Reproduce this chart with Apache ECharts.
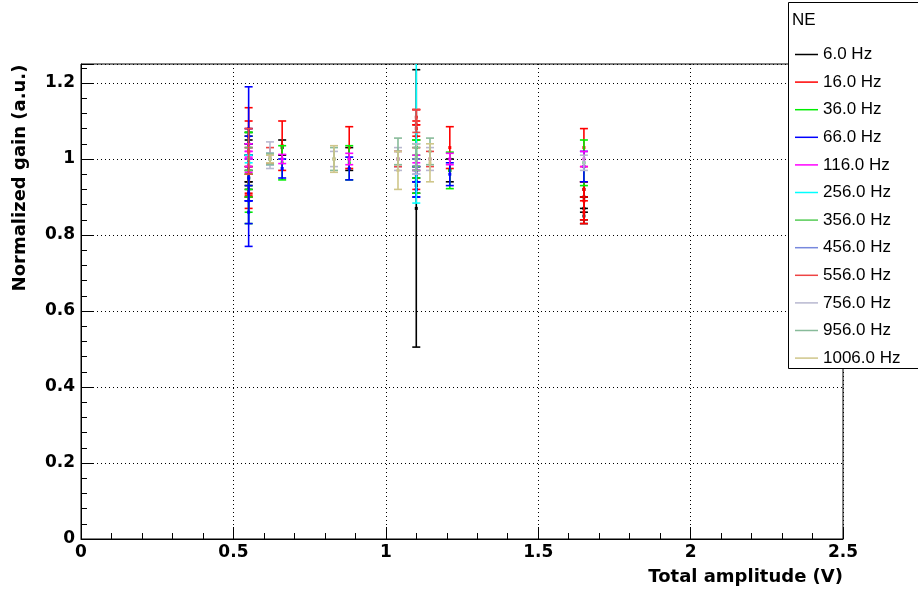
<!DOCTYPE html>
<html>
<head>
<meta charset="utf-8">
<script src="https://cdn.jsdelivr.net/npm/echarts@6/dist/echarts.min.js"></script>
<style>
  html, body { margin: 0; padding: 0; background: #fff; }
  #main { width: 918px; height: 592px; }
</style>
</head>
<body>
<div id="main"></div>
<script>
// each point: [total amplitude (V), normalized gain, error]
var freqNames = ['6.0 Hz', '16.0 Hz', '36.0 Hz', '66.0 Hz', '116.0 Hz', '256.0 Hz',
  '356.0 Hz', '456.0 Hz', '556.0 Hz', '756.0 Hz', '956.0 Hz', '1006.0 Hz'];
var freqColors = ['#000000', '#ff0000', '#00ee00', '#0000ff', '#ff00ff', '#00ffff',
  '#55cc55', '#7788dd', '#ee4444', '#b8b8d0', '#88bb9a', '#cfc68a'];

var hz6 = [[0.55, 0.99, 0.05], [0.55, 0.95, 0.03], [0.55, 1.04, 0.03], [0.55, 0.92, 0.02], [0.55, 1.01, 0.04],
  [0.66, 1.03, 0.02], [0.88, 1.00, 0.03],
  [1.1, 0.87, 0.365], [1.1, 0.97, 0.03], [1.1, 0.93, 0.02], [1.21, 0.97, 0.03],
  [1.65, 0.87, 0.03], [1.65, 0.90, 0.04], [1.65, 0.85, 0.02], [1.65, 0.92, 0.02]];
var hz16 = [[0.55, 1.02, 0.115], [0.55, 0.97, 0.06], [0.55, 1.06, 0.02], [0.55, 1.08, 0.02], [0.55, 0.90, 0.03], [0.55, 0.94, 0.04],
  [0.66, 1.035, 0.065], [0.88, 1.03, 0.055],
  [1.1, 1.09, 0.04], [1.1, 1.06, 0.03], [1.1, 0.95, 0.03], [1.1, 1.11, 0.02], [1.1, 1.08, 0.02],
  [1.21, 1.03, 0.055], [1.65, 1.03, 0.05], [1.65, 0.89, 0.05], [1.65, 0.86, 0.03], [1.65, 0.92, 0.02]];
var hz36 = [[0.55, 0.95, 0.12], [0.55, 1.01, 0.05], [0.55, 0.93, 0.03], [0.55, 0.89, 0.03], [0.55, 1.04, 0.03], [0.55, 0.97, 0.04],
  [0.66, 0.99, 0.045], [0.88, 0.99, 0.045],
  [1.1, 1.0, 0.05], [1.1, 0.94, 0.03], [1.1, 1.03, 0.02], [1.21, 0.97, 0.048], [1.65, 0.99, 0.06]];
var hz66 = [[0.55, 0.98, 0.21], [0.55, 0.95, 0.06], [0.55, 1.03, 0.03], [0.55, 0.91, 0.02], [0.55, 1.06, 0.02], [0.55, 0.86, 0.03],
  [0.66, 0.975, 0.025], [0.88, 0.975, 0.03],
  [1.1, 0.94, 0.04], [1.1, 0.92, 0.02], [1.1, 0.96, 0.02], [1.21, 0.96, 0.03], [1.65, 0.98, 0.04]];
var hz116 = [[0.55, 1.0, 0.02], [0.55, 1.015, 0.015], [0.55, 0.985, 0.02], [0.55, 1.03, 0.01],
  [0.66, 1.0, 0.012], [0.88, 1.0, 0.015],
  [1.1, 0.99, 0.02], [1.1, 0.98, 0.01], [1.21, 1.0, 0.015], [1.65, 1.0, 0.02]];
var hz256 = [[1.1, 1.07, 0.186], [0.55, 1.0, 0.01]];
var hz356 = [[0.55, 1.0, 0.03], [1.1, 1.01, 0.03], [0.62, 1.0, 0.01]];
var hz456 = [[0.62, 1.0, 0.015], [1.1, 0.98, 0.02], [1.04, 1.0, 0.02]];
var hz556 = [[0.62, 1.01, 0.02], [0.55, 1.02, 0.06], [1.1, 1.1, 0.03], [1.04, 1.0, 0.02], [1.145, 1.0, 0.02]];
var hz756 = [[0.62, 1.01, 0.035], [0.83, 1.0, 0.02], [1.04, 1.0, 0.03], [1.1, 1.0, 0.04], [1.145, 1.0, 0.03], [1.65, 0.99, 0.02]];
var hz956 = [[0.62, 1.0, 0.015], [0.83, 1.0, 0.03], [1.04, 1.02, 0.035], [1.145, 1.02, 0.035], [1.1, 1.0, 0.03]];
var hz1006 = [[0.83, 1.0, 0.035], [1.04, 0.97, 0.05], [1.145, 0.99, 0.05], [0.62, 1.0, 0.01]];
var allData = [hz6, hz16, hz36, hz66, hz116, hz256, hz356, hz456, hz556, hz756, hz956, hz1006];

var xTicks = [0, 0.5, 1, 1.5, 2, 2.5];
var yTicks = [0, 0.2, 0.4, 0.6, 0.8, 1, 1.2];

var font = 'Liberation Sans, Arial, sans-serif';
var boldFont = 'DejaVu Sans, sans-serif';

function renderErr(params, api) {
  var cs = params.coordSys;
  var x = api.value(0), y = api.value(1), e = api.value(2);
  var c = api.coord([x, y]);
  var top = api.coord([x, y + e])[1];
  var bot = api.coord([x, y - e])[1];
  var color = api.visual('color');
  var style = { stroke: color, lineWidth: 1.6 };
  var children = [];
  var t = Math.max(top, cs.y), b = Math.min(bot, cs.y + cs.height);
  children.push({ type: 'line', shape: { x1: c[0], y1: t, x2: c[0], y2: b }, style: style });
  if (top >= cs.y) children.push({ type: 'line', shape: { x1: c[0] - 4, y1: top, x2: c[0] + 4, y2: top }, style: style });
  if (bot <= cs.y + cs.height) children.push({ type: 'line', shape: { x1: c[0] - 4, y1: bot, x2: c[0] + 4, y2: bot }, style: style });
  children.push({ type: 'rect', shape: { x: c[0] - 1.5, y: c[1] - 1.5, width: 3, height: 3 }, style: { fill: color } });
  return { type: 'group', children: children };
}

var myChart = echarts.init(document.getElementById('main'));

var series = allData.map(function (d, i) {
  return {
    name: freqNames[i],
    type: 'custom',
    renderItem: renderErr,
    itemStyle: { color: freqColors[i] },
    encode: { x: 0, y: 1 },
    data: d,
    z: 2 + i * 0.01
  };
});

myChart.setOption({
  animation: false,
  grid: { left: 81, right: 75, top: 64, bottom: 53, show: true, borderColor: '#000', borderWidth: 1, backgroundColor: 'transparent' },
  legend: {
    orient: 'vertical',
    left: 790,
    top: 41,
    padding: 5,
    data: freqNames,
    icon: 'rect',
    itemWidth: 23,
    itemHeight: 1.5,
    itemGap: 10.6,
    textStyle: { fontFamily: font, fontSize: 17, color: '#000', lineHeight: 17 },
    z: 11
  },
  graphic: [
    { type: 'rect', z: 10, shape: { x: 788.5, y: 2.5, width: 140, height: 366 }, style: { fill: '#fff', stroke: '#000', lineWidth: 1 } },
    { type: 'text', z: 11, left: 792, top: 12, style: { text: 'NE', font: '17px ' + font, fill: '#000' } },
    { type: 'text', z: 11, x: 20, y: 178, rotation: Math.PI / 2,
      style: { text: 'Normalized gain (a.u.)', font: 'bold 18px ' + boldFont, fill: '#000', align: 'center', verticalAlign: 'middle' } }
  ],
  xAxis: {
    type: 'value',
    min: xTicks[0],
    max: xTicks[xTicks.length - 1],
    interval: 0.5,
    name: 'Total amplitude (V)',
    nameLocation: 'end',
    nameGap: 0,
    nameTextStyle: { fontFamily: boldFont, fontWeight: 'bold', fontSize: 18, color: '#000', align: 'right', verticalAlign: 'top', padding: [29, 0, 0, 0] },
    axisLine: { lineStyle: { color: '#000', width: 1 } },
    axisTick: { inside: true, length: 12, lineStyle: { color: '#000' } },
    minorTick: { show: true, splitNumber: 5, length: 6, lineStyle: { color: '#000' } },
    axisLabel: { fontFamily: boldFont, fontWeight: 'bold', fontSize: 17, color: '#000', margin: 5 },
    splitLine: { show: true, lineStyle: { color: '#000', type: [1, 3], width: 1 } }
  },
  yAxis: {
    type: 'value',
    min: yTicks[0],
    max: 1.25,
    interval: 0.2,
    axisLine: { show: true, lineStyle: { color: '#000', width: 1 } },
    axisTick: { inside: true, length: 12, lineStyle: { color: '#000' } },
    minorTick: { show: true, splitNumber: 5, length: 6, lineStyle: { color: '#000' } },
    axisLabel: {
      fontFamily: boldFont, fontWeight: 'bold', fontSize: 17, color: '#000', margin: 6, showMaxLabel: false,
      formatter: function (v) { return yTicks.indexOf(Math.round(v * 100) / 100) >= 0 ? String(Math.round(v * 100) / 100) : ''; }
    },
    splitLine: { show: true, lineStyle: { color: '#000', type: [1, 3], width: 1 } }
  },
  series: series
});
</script>
</body>
</html>
